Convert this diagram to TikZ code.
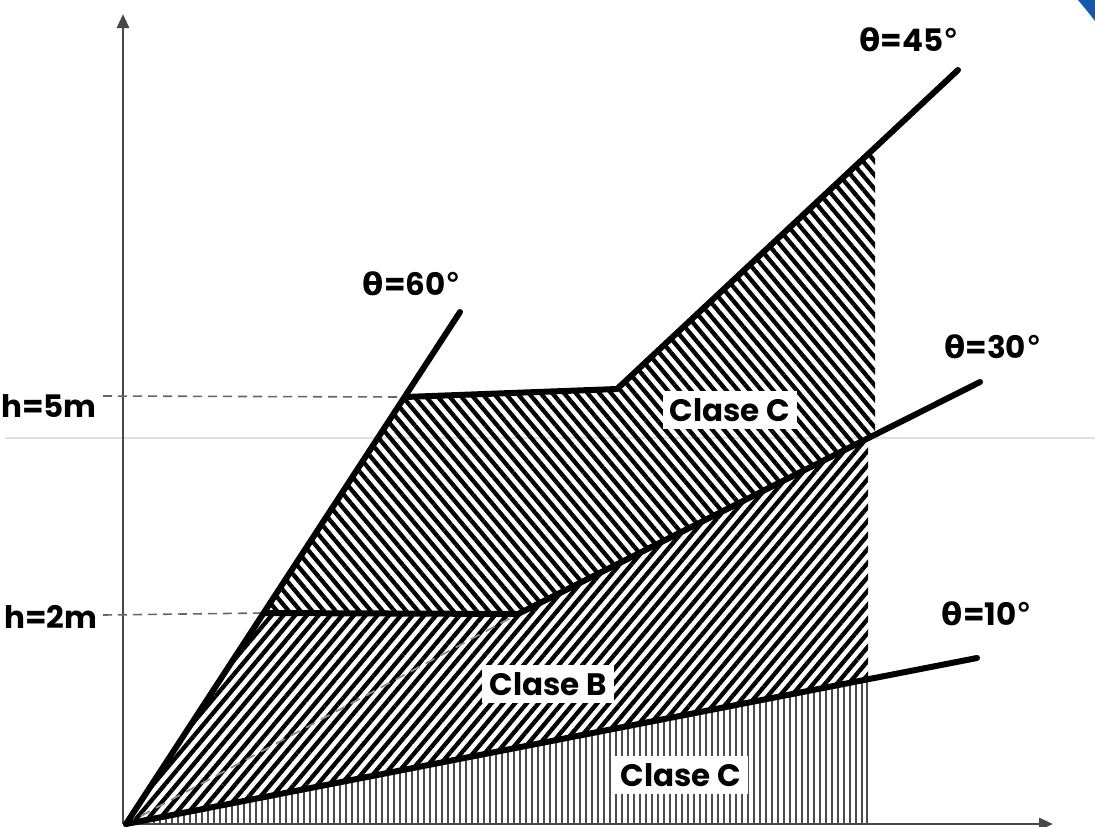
\documentclass[tikz,border=0pt]{standalone}
\usepackage{fontspec}
\setmainfont{Poppins}
\newfontfamily\gk{DejaVu Sans}
\usetikzlibrary{patterns.meta,arrows.meta}
\begin{document}
\begin{tikzpicture}[x=1pt,y=-1pt,
  thickln/.style={line width=6pt, line join=round, line cap=round},
  axisln/.style={line width=2.8pt, draw=black!72},
  hdash/.style={line width=1.6pt, draw=black!60, dash pattern=on 9pt off 6pt},
  lbl/.style={font=\fontsize{31}{36}\selectfont\bfseries, inner sep=3pt, fill=white},
  boxlbl/.style={lbl, inner sep=7pt},
  hatchC/.style={pattern={Lines[angle=-50,distance=9pt,line width=4.3pt]}, pattern color=black},
  hatchB/.style={pattern={Lines[angle=50,distance=9pt,line width=4.3pt]}, pattern color=black},
  vline/.style={line width=1.7pt, draw=black!70}]
\useasboundingbox (0,0) rectangle (1095,827);
% screenshot artefacts
\draw[line width=1.5pt, draw=black!12] (5,438) -- (1095,438);
\fill[fill={rgb,255:red,22;green,88;blue,170}] (1078,0) -- (1095,0) -- (1095,21) .. controls (1088,12) .. cycle;
% key points
\coordinate (O) at (126,824);
\coordinate (A2) at (264,613);
\coordinate (A5) at (405,397);
\coordinate (E60) at (460,312);
\coordinate (K5) at (617,389);
\coordinate (Q45) at (875,149);
\coordinate (E45) at (958,70);
\coordinate (K2) at (518,614);
\coordinate (Q30) at (875,435);
\coordinate (R30) at (868,438);
\coordinate (E30) at (980,382);
\coordinate (Q10) at (868,680);
\coordinate (E10) at (977,658);
\coordinate (B0) at (868,824);
\coordinate (YT) at (123,14);
\coordinate (YB) at (123,824);
\coordinate (XR) at (1053,824);
\coordinate (D5) at (103,396);
\coordinate (D2) at (103,615);
% regions
\fill[hatchC] (A2) -- (A5) -- (K5) -- (Q45) -- (Q30) -- (K2) -- cycle;
\fill[hatchB] (O) -- (A2) -- (K2) -- (R30) -- (Q10) -- cycle;
\begin{scope}
  \clip (O) -- (Q10) -- (B0) -- cycle;
  \foreach \xx in {130,136,...,866} {\draw[vline] (\xx,660) -- (\xx,826);}
  \draw[vline] (867,660) -- (867,826);
\end{scope}
% axes
\draw[axisln, -{Triangle[length=14pt,width=12pt]}] (YB) -- (YT);
\draw[axisln, -{Triangle[length=14pt,width=12pt]}] (YB) -- (XR);
% dashed guides
\draw[hdash] (D5) -- (A5);
\draw[hdash] (D2) -- (A2);
\draw[line width=1.8pt, draw=black!45, dash pattern=on 10pt off 7pt] (O) -- (K2);
% boundary lines
\draw[thickln] (O) -- (E60);
\draw[thickln] (A5) -- (K5) -- (E45);
\draw[thickln] (A2) -- (K2) -- (E30);
\draw[thickln] (O) -- (E10);
% labels
\node[lbl] (t45) at (909,40) {{\gk θ}=45{\gk °}};
\node[lbl] (t60) at (412,284) {{\gk θ}=60{\gk °}};
\node[lbl] (t30) at (993,347) {{\gk θ}=30{\gk °}};
\node[lbl] (t10) at (987,614) {{\gk θ}=10{\gk °}};
\node[lbl] (h5) at (49,406) {h=5m};
\node[lbl] (h2) at (51,617) {h=2m};
\node[boxlbl] (cc1) at (730,410) {Clase C};
\node[boxlbl] (cb) at (548,684) {Clase B};
\node[boxlbl] (cc2) at (681,775) {Clase C};
\end{tikzpicture}
\end{document}
